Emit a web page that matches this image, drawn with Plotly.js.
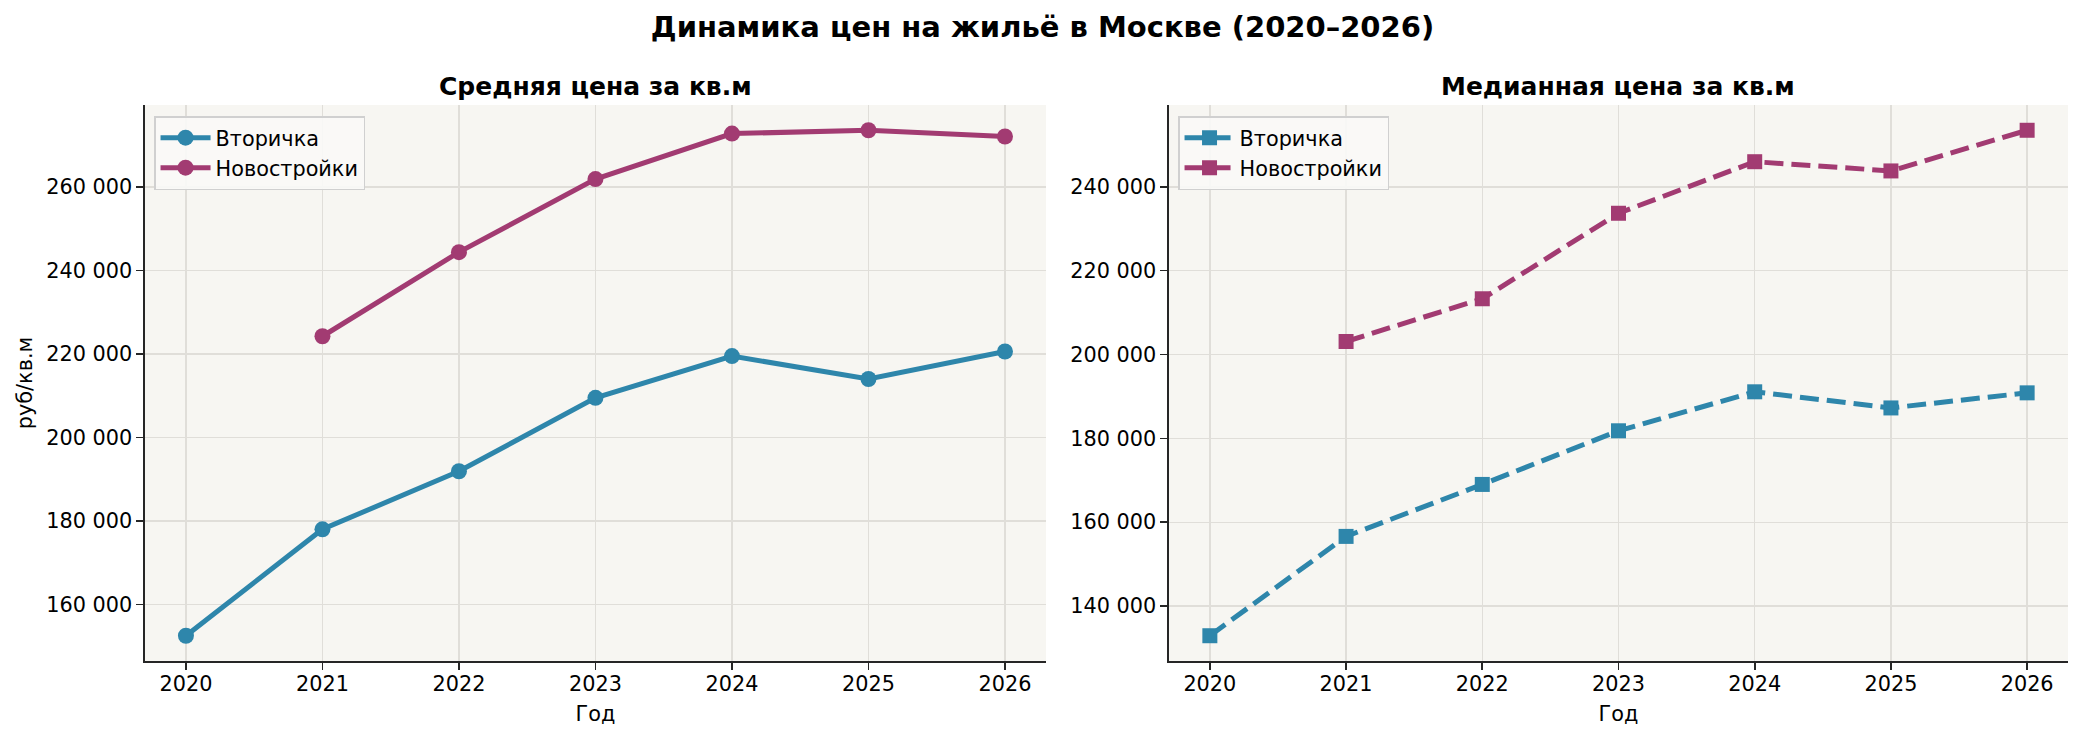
<!DOCTYPE html>
<html>
<head>
<meta charset="utf-8">
<script src="https://cdn.plot.ly/plotly-3.0.1.min.js"></script>
<style>
  html, body { margin: 0; padding: 0; background: #fff; }
  #chart { width: 2085px; height: 740px; }
</style>
</head>
<body>
<div id="chart"></div>
<script>
// data
const years = [2020, 2021, 2022, 2023, 2024, 2025, 2026];
const meanSecondary = [152500, 178000, 191900, 209500, 219500, 214000, 220600];
const meanNew = [null, 224250, 244400, 261900, 272800, 273600, 272100];
const medianSecondary = [132900, 156600, 169000, 181800, 191100, 187250, 190850];
const medianNew = [null, 203100, 213300, 233700, 246000, 243800, 253500];
const seriesNames = ["Вторичка", "Новостройки"];

const BLUE = "#2E86AB";
const PURPLE = "#A23B72";
const FONT = "DejaVu Sans";

// matplotlib style autoscale: 5% margin on each side
function padRange(arrs) {
  let vals = [].concat(...arrs).filter((v) => v != null);
  let lo = Math.min(...vals), hi = Math.max(...vals);
  let pad = (hi - lo) * 0.05;
  return [lo - pad, hi + pad];
}

function makeTrace(y, name, color, symbol, dash, xa, ya, legend) {
  return {
    x: years,
    y: y,
    name: name,
    type: "scatter",
    mode: "lines+markers",
    xaxis: xa,
    yaxis: ya,
    legend: legend,
    connectgaps: false,
    line: { color: color, width: 5, dash: dash },
    marker: { color: color, size: symbol === "square" ? 15 : 16, symbol: symbol },
  };
}

let traces = [
  makeTrace(meanSecondary, seriesNames[0], BLUE, "circle", "solid", "x", "y", "legend"),
  makeTrace(meanNew, seriesNames[1], PURPLE, "circle", "solid", "x", "y", "legend"),
  makeTrace(medianSecondary, seriesNames[0], BLUE, "square", "19px,8px", "x2", "y2", "legend2"),
  makeTrace(medianNew, seriesNames[1], PURPLE, "square", "19px,8px", "x2", "y2", "legend2"),
];

function xAxis(domain, anchor) {
  return {
    domain: domain,
    anchor: anchor,
    range: [years[0] - 0.3, years[years.length - 1] + 0.3],
    tickvals: years,
    ticktext: years.map(String),
    showline: true,
    linecolor: "#262626",
    linewidth: 1.6,
    ticks: "outside",
    ticklen: 7,
    tickwidth: 1.6,
    tickcolor: "#262626",
    ticklabelstandoff: -4,
    showgrid: true,
    gridcolor: "#e0ded9",
    gridwidth: 1.3,
    zeroline: false,
    tickfont: { family: FONT, size: 20.8, color: "#000" },
    title: { text: "Год", font: { family: FONT, size: 20.8, color: "#000" }, standoff: 12 },
    automargin: false,
  };
}

function yAxis(range, anchor, label) {
  return {
    anchor: anchor,
    range: range,
    dtick: 20000,
    tickformat: ",.0f",
    showline: true,
    linecolor: "#262626",
    linewidth: 1.6,
    ticks: "outside",
    ticklen: 7,
    tickwidth: 1.6,
    tickcolor: "#262626",
    showgrid: true,
    gridcolor: "#e0ded9",
    gridwidth: 1.3,
    zeroline: false,
    tickfont: { family: FONT, size: 20.8, color: "#000" },
    title: label ? { text: label, font: { family: FONT, size: 20.8, color: "#000" }, standoff: 8 } : { text: "" },
    automargin: false,
  };
}

const legendStyle = {
  y: 0.98,
  yanchor: "top",
  xanchor: "left",
  bgcolor: "rgba(250,249,247,0.9)",
  bordercolor: "#d0d0d0",
  borderwidth: 1.5,
  font: { family: FONT, size: 20.8, color: "#000" },
  itemwidth: 50,
  tracegroupgap: 0,
};

let layout = {
  width: 2085,
  height: 740,
  margin: { l: 145, r: 17, t: 105, b: 79 },
  paper_bgcolor: "#ffffff",
  plot_bgcolor: "#f7f6f2",
  separators: ". ",
  showlegend: true,
  title: {
    text: "<b>Динамика цен на жильё в Москве (2020–2026)</b>",
    font: { family: FONT, size: 29, color: "#000" },
    x: 0.5,
    xanchor: "center",
    y: 1 - 27 / 740,
    yanchor: "middle",
  },
  xaxis: xAxis([0, 0.4685], "y"),
  yaxis: yAxis(padRange([meanSecondary, meanNew]), "x", "руб/кв.м"),
  xaxis2: xAxis([0.5325, 1], "y2"),
  yaxis2: yAxis(padRange([medianSecondary, medianNew]), "x2", null),
  legend: Object.assign({}, legendStyle, { x: 0.0047 }),
  legend2: Object.assign({}, legendStyle, { x: 0.5372 }),
  annotations: [
    {
      text: "<b>Средняя цена за кв.м</b>",
      xref: "paper", yref: "paper",
      x: 0.4685 / 2, y: 1.034,
      xanchor: "center", yanchor: "middle",
      showarrow: false,
      font: { family: FONT, size: 25, color: "#000" },
    },
    {
      text: "<b>Медианная цена за кв.м</b>",
      xref: "paper", yref: "paper",
      x: (0.5325 + 1) / 2, y: 1.034,
      xanchor: "center", yanchor: "middle",
      showarrow: false,
      font: { family: FONT, size: 25, color: "#000" },
    },
  ],
};

Plotly.newPlot("chart", traces, layout, { displayModeBar: false, staticPlot: true });
</script>
</body>
</html>
